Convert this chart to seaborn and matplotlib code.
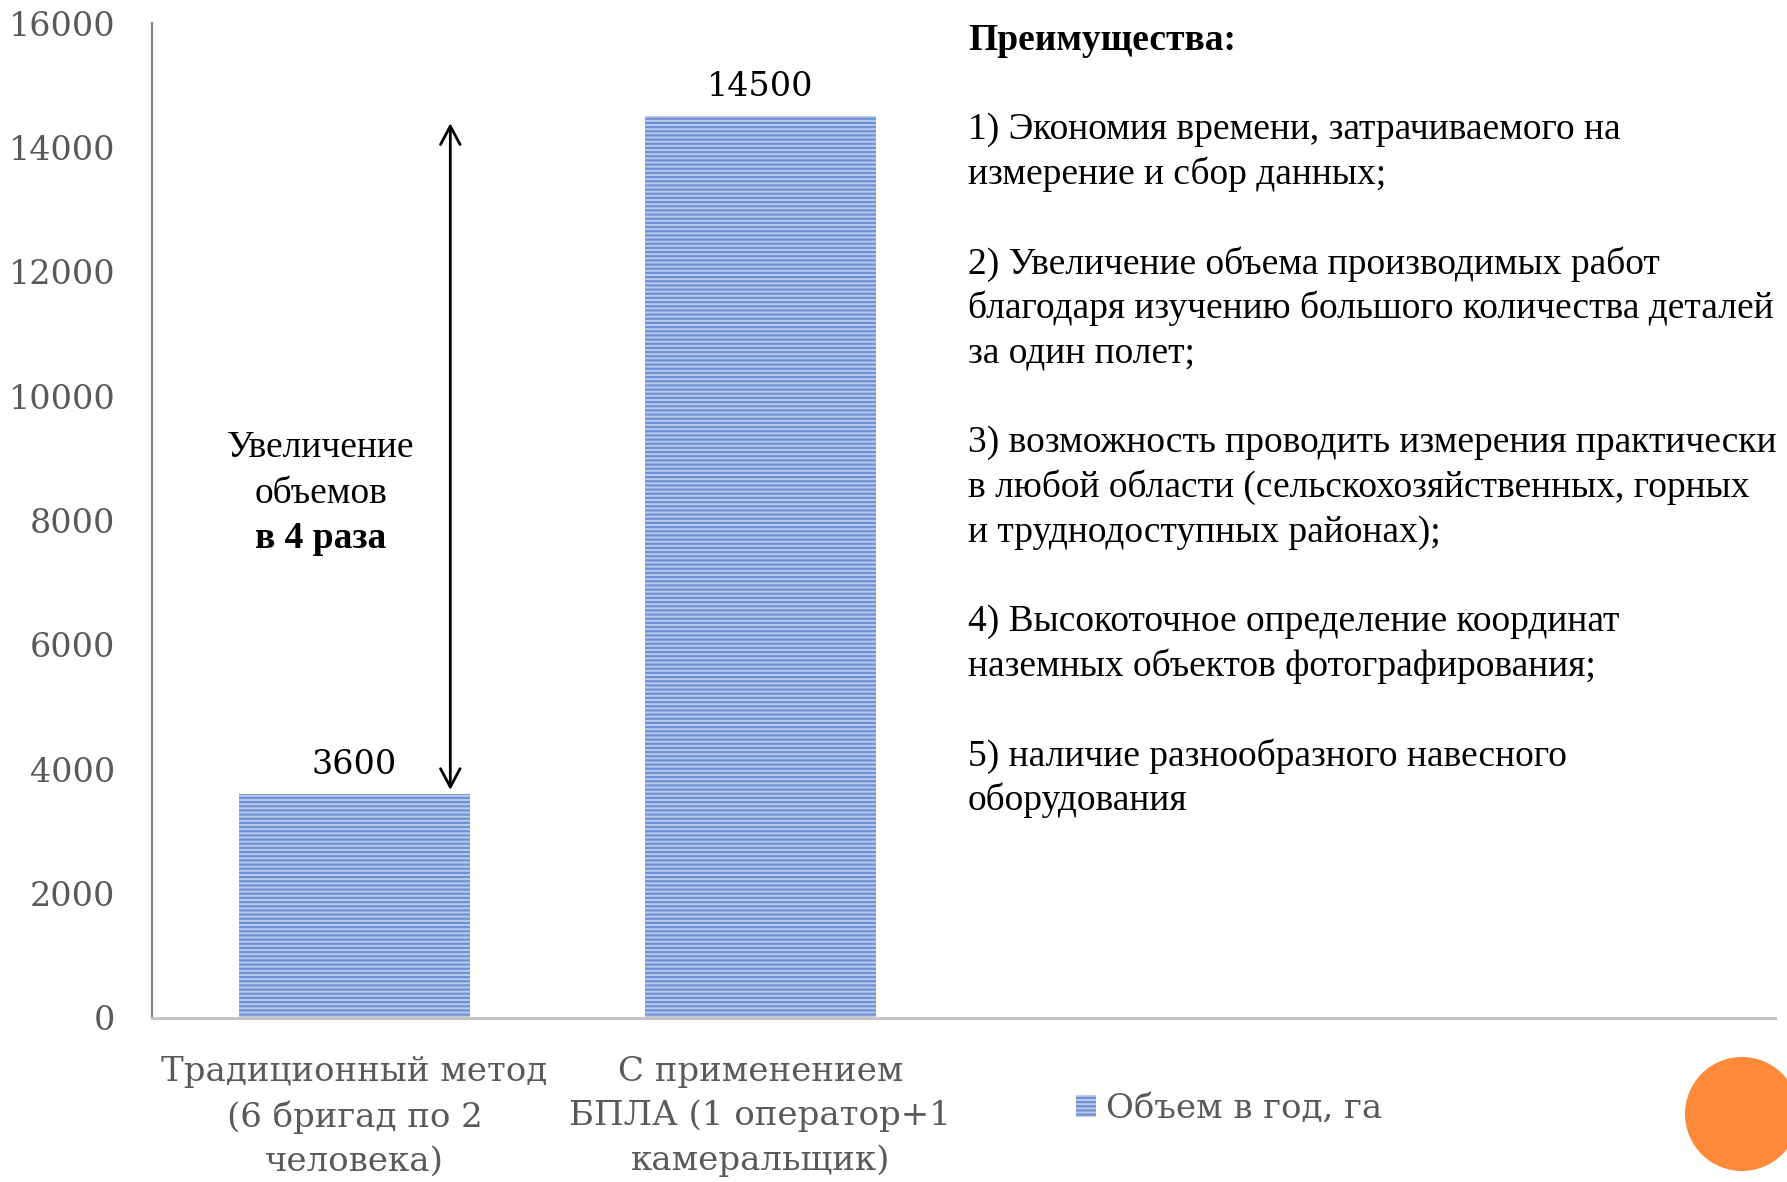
import matplotlib
matplotlib.use("Agg")
import matplotlib.pyplot as plt
import seaborn as sns
import pandas as pd
from matplotlib.patches import Circle

# ---- data ----
categories = ["Традиционный метод\n(6 бригад по 2\nчеловека)",
              "С применением\nБПЛА (1 оператор+1\nкамеральщик)"]
values = [3600, 14500]
series_name = "Объем в год, га"
y_ticks = [0, 2000, 4000, 6000, 8000, 10000, 12000, 14000, 16000]
note_lines = ["Увеличение", "объемов", "в 4 раза"]
adv_title = "Преимущества:"
adv_lines = ["",
             "1) Экономия времени, затрачиваемого на",
             "измерение и сбор данных;",
             "",
             "2) Увеличение объема производимых работ",
             "благодаря изучению большого количества деталей",
             "за один полет;",
             "",
             "3) возможность проводить измерения практически",
             "в любой области (сельскохозяйственных, горных",
             "и труднодоступных районах);",
             "",
             "4) Высокоточное определение координат",
             "наземных объектов фотографирования;",
             "",
             "5) наличие разнообразного навесного",
             "оборудования"]

df = pd.DataFrame({"cat": categories, "val": values})

sns.set_theme(style="white")
plt.rcParams["font.family"] = ["DejaVu Serif"]
plt.rcParams["hatch.linewidth"] = 1.6

W, H = 1787, 1182
fig = plt.figure(figsize=(W / 100, H / 100), dpi=100)
ax = fig.add_axes([151.6 / W, 1 - 1018 / H, (1775 - 151.6) / W, (1018 - 23) / H])

tick_color = "#595959"
serif_num = dict(family="DejaVu Serif")

sns.barplot(data=df, x="cat", y="val", ax=ax, width=0.57,
            color="#b6c9ee", edgecolor="#6e92da", linewidth=0,
            hatch="----", label=series_name)

ax.set_xlim(-0.5, 3.5)
ax.set_ylim(0, 16000)
ax.set_yticks(y_ticks)
ax.set_yticklabels([str(t) for t in y_ticks], fontsize=24, color=tick_color, **serif_num)
ax.set_xticks(range(len(categories)))
ax.set_xticklabels(categories, fontsize=24.5, color=tick_color, linespacing=1.48, **serif_num)
ax.tick_params(axis="both", length=0)
ax.tick_params(axis="y", pad=26)
ax.tick_params(axis="x", pad=27)
ax.set_xlabel("")
ax.set_ylabel("")

for s in ["top", "right"]:
    ax.spines[s].set_visible(False)
ax.spines["left"].set_color("#858585")
ax.spines["left"].set_linewidth(1.6)
ax.spines["bottom"].set_color("#c4c4c4")
ax.spines["bottom"].set_linewidth(2.2)

# value labels
ax.bar_label(ax.containers[0], labels=[str(v) for v in values], padding=9.5,
             fontsize=24, color="black", **serif_num)

# double arrow between the two values
arrow_x = 0.236
ax.annotate("", xy=(arrow_x, values[1]), xytext=(arrow_x, values[0]),
            arrowprops=dict(arrowstyle="<->,head_length=0.6,head_width=0.32",
                            color="black", lw=2, shrinkA=3, shrinkB=5,
                            mutation_scale=22))

# note text
note_x = 321 / W
note_y = [448, 493.5, 538]
for i, t in enumerate(note_lines):
    fig.text(note_x, 1 - note_y[i] / H, t, ha="center", va="center",
             fontsize=27, family="Liberation Serif",
             fontweight="bold" if i == 2 else "normal", color="black")

# advantages text
x0 = 968 / W
y0 = 40.5
step = 44.7
fig.text(x0, 1 - y0 / H, adv_title, ha="left", va="center", fontsize=27,
         family="Liberation Serif", fontweight="bold", color="black")
for i, t in enumerate(adv_lines, start=1):
    if t:
        fig.text(x0, 1 - (y0 + i * step) / H, t, ha="left", va="center",
                 fontsize=27, family="Liberation Serif", color="black")

# legend
leg = ax.legend(loc="center left", bbox_to_anchor=(1045 / W, 1 - 1109 / H),
                bbox_transform=fig.transFigure, frameon=False,
                handlelength=0.6, handleheight=0.6, handletextpad=0.3,
                prop=dict(family="DejaVu Serif", size=24.5))
for txt in leg.get_texts():
    txt.set_color(tick_color)

# orange decorative circle
circ = Circle((1742 / 100, (H - 1114) / 100), 0.57, transform=fig.dpi_scale_trans,
              facecolor="#fd8a3b", edgecolor="none", clip_on=False)
fig.patches.append(circ)

fig.savefig("out.png", dpi=100)
